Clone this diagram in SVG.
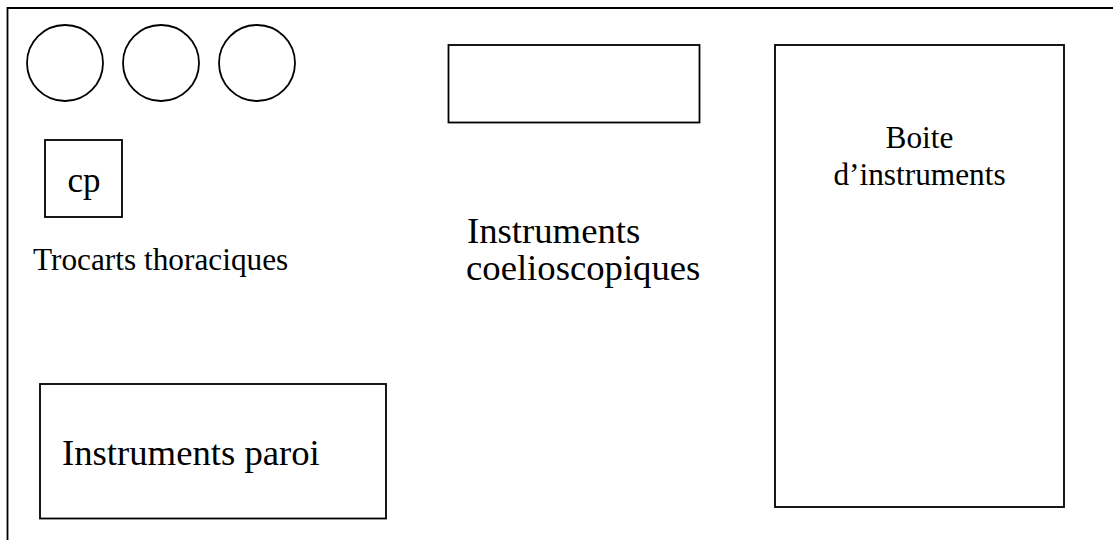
<svg xmlns="http://www.w3.org/2000/svg" width="1113" height="540" viewBox="0 0 1113 540">
<style>
.s{fill:none;stroke:#000;stroke-width:1.8}
.t{font-family:"Liberation Serif","Times New Roman",serif;fill:#000}
.big{font-size:36.7px}
.small{font-size:31.3px}
</style>
<rect width="1113" height="540" fill="#fff"/>
<g id="frame">
<path class="s" d="M7.5 560 V8 H1130"/>
</g>
<g id="trocart1"><circle class="s" cx="65" cy="63" r="38"/></g>
<g id="trocart2"><circle class="s" cx="161" cy="63" r="38"/></g>
<g id="trocart3"><circle class="s" cx="257" cy="63" r="38"/></g>
<g id="cp"><rect class="s" x="45" y="140" width="77" height="77"/><text class="t" x="84" y="192" font-size="35px" text-anchor="middle">cp</text></g>
<g id="trocarts-label"><text class="t small" x="33" y="270">Trocarts thoraciques</text></g>
<g id="coelio-box"><rect class="s" x="448.5" y="45" width="251" height="77.5"/></g>
<g id="coelio-label"><text class="t big" x="467" y="243">Instruments</text><text class="t big" x="466" y="280">coelioscopiques</text></g>
<g id="boite"><rect class="s" x="775" y="45" width="289" height="462"/><text class="t small" x="919.5" y="148" text-anchor="middle">Boite</text><text class="t small" x="919.5" y="184.5" text-anchor="middle">d’instruments</text></g>
<g id="paroi"><rect class="s" x="40" y="384" width="346" height="134.5"/><text class="t big" x="62" y="465">Instruments paroi</text></g>
<g id="connectors"/>
</svg>
